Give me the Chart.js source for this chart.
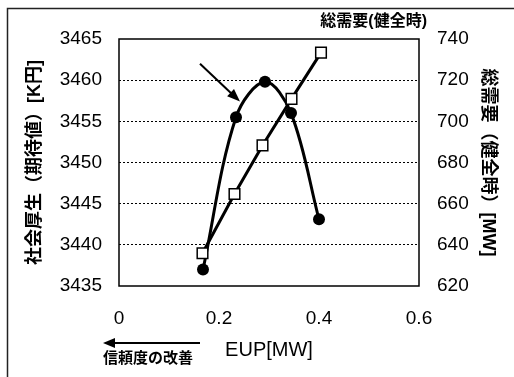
<!DOCTYPE html>
<html>
<head>
<meta charset="utf-8">
<script src="https://cdn.jsdelivr.net/npm/chart.js"></script>
<style>
  html, body { margin: 0; padding: 0; background: #fff; }
  #wrap { width: 514px; height: 377px; }
</style>
</head>
<body>
<div id="wrap"><canvas id="chart" width="514" height="377"></canvas></div>
<script>
// welfare (left axis, filled circles)
const welfareEup = [0.168, 0.234, 0.292, 0.344, 0.400];
const welfareValues = [3437.0, 3455.5, 3459.8, 3456.0, 3443.1];
// total demand (right axis, open squares)
const demandEup = [0.167, 0.231, 0.287, 0.345, 0.404];
const demandValues = [635.9, 664.7, 688.3, 710.9, 733.4];

const xTicks = [0, 0.2, 0.4, 0.6];
const leftTicks = [3435, 3440, 3445, 3450, 3455, 3460, 3465];
const rightTicks = [620, 640, 660, 680, 700, 720, 740];

// arrow pointing at the welfare peak, in data units (start, end)
const pointerArrow = [[0.162, 3462.0], [0.242, 3457.4]];

const NUM_FONT = "'Liberation Sans', Arial, sans-serif";
const JP_FONT = "'Liberation Sans', 'Noto Sans CJK JP', sans-serif";

function toPoints(xs, ys) {
    return xs.map((x, i) => ({ x: x, y: ys[i] }));
}

function arrowHead(ctx, x1, y1, x2, y2, len, half) {
    const a = Math.atan2(y2 - y1, x2 - x1);
    ctx.beginPath();
    ctx.moveTo(x2, y2);
    ctx.lineTo(x2 - len * Math.cos(a) + half * Math.sin(a), y2 - len * Math.sin(a) - half * Math.cos(a));
    ctx.lineTo(x2 - len * Math.cos(a) - half * Math.sin(a), y2 - len * Math.sin(a) + half * Math.cos(a));
    ctx.closePath();
    ctx.fill();
}

const decorPlugin = {
    id: 'decor',
    afterDatasetsDraw(chart) {
        const { ctx, chartArea, scales } = chart;
        ctx.save();
        ctx.strokeStyle = '#000';
        ctx.fillStyle = '#000';

        // plot box
        ctx.lineWidth = 1.5;
        ctx.strokeRect(chartArea.left, chartArea.top, chartArea.right - chartArea.left, chartArea.bottom - chartArea.top);

        // outer frame (only left and top edges visible)
        ctx.lineWidth = 1.5;
        ctx.strokeStyle = '#222';
        ctx.beginPath();
        ctx.moveTo(7.5, 377);
        ctx.lineTo(7.5, 8.5);
        ctx.lineTo(514, 8.5);
        ctx.stroke();

        // pointer arrow
        const sx = scales.x.getPixelForValue(pointerArrow[0][0]);
        const sy = scales.y.getPixelForValue(pointerArrow[0][1]);
        const ex = scales.x.getPixelForValue(pointerArrow[1][0]);
        const ey = scales.y.getPixelForValue(pointerArrow[1][1]);
        const ang = Math.atan2(ey - sy, ex - sx);
        ctx.strokeStyle = '#000';
        ctx.lineWidth = 2;
        ctx.beginPath();
        ctx.moveTo(sx, sy);
        ctx.lineTo(ex - 6 * Math.cos(ang), ey - 6 * Math.sin(ang));
        ctx.stroke();
        arrowHead(ctx, sx, sy, ex, ey, 13, 5);

        // reliability arrow under the axis
        const ay = 343;
        ctx.lineWidth = 2;
        ctx.beginPath();
        ctx.moveTo(chartArea.left + 81, ay);
        ctx.lineTo(chartArea.left - 5, ay);
        ctx.stroke();
        arrowHead(ctx, chartArea.left + 81, ay, chartArea.left - 16, ay, 12, 5);

        ctx.font = "bold 15px " + JP_FONT;
        ctx.textAlign = 'center';
        ctx.textBaseline = 'middle';
        ctx.fillText('信頼度の改善', chartArea.left + 29, 359);

        // right series caption
        ctx.font = "bold 16px " + JP_FONT;
        ctx.textAlign = 'right';
        ctx.fillText('総需要(健全時)', chartArea.right + 8, 22);
        ctx.restore();
    }
};

new Chart(document.getElementById('chart'), {
    type: 'line',
    data: {
        datasets: [
            {
                label: '総需要(健全時)',
                data: toPoints(demandEup, demandValues),
                yAxisID: 'y1',
                borderColor: '#000',
                borderWidth: 3,
                pointStyle: 'rect',
                pointRadius: 7.5,
                pointBackgroundColor: '#fff',
                pointBorderColor: '#000',
                pointBorderWidth: 1.5,
                tension: 0,
                order: 0
            },
            {
                label: '社会厚生(期待値)',
                data: toPoints(welfareEup, welfareValues),
                yAxisID: 'y',
                borderColor: '#000',
                borderWidth: 3,
                pointStyle: 'circle',
                pointRadius: 6,
                pointBackgroundColor: '#000',
                pointBorderColor: '#000',
                pointBorderWidth: 0,
                tension: 0.35,
                order: 1
            }
        ]
    },
    options: {
        responsive: false,
        animation: false,
        devicePixelRatio: 1,
        layout: { padding: { top: 39, left: 0, right: 0, bottom: 0 } },
        plugins: {
            legend: { display: false },
            tooltip: { enabled: false }
        },
        scales: {
            x: {
                type: 'linear',
                min: 0,
                max: 0.6,
                afterBuildTicks: scale => { scale.ticks = xTicks.map(v => ({ value: v })); },
                afterFit: scale => { scale.height = 91; },
                grid: { display: false, drawTicks: false },
                border: { display: false },
                ticks: {
                    padding: 21,
                    color: '#000',
                    font: { family: NUM_FONT, size: 19 },
                    callback: v => String(v)
                },
                title: {
                    display: true,
                    text: 'EUP[MW]',
                    color: '#000',
                    font: { family: NUM_FONT, size: 20 },
                    padding: { top: 0, bottom: 15 }
                }
            },
            y: {
                type: 'linear',
                position: 'left',
                min: 3435,
                max: 3465,
                afterBuildTicks: scale => { scale.ticks = leftTicks.map(v => ({ value: v })); },
                afterFit: scale => { scale.width = 119; },
                grid: {
                    drawTicks: false,
                    lineWidth: 1,
                    color: ctx => (ctx.index === 0 || ctx.index === leftTicks.length - 1) ? 'rgba(0,0,0,0)' : '#000'
                },
                // in v4 the grid line dash comes from the border options
                border: { display: false, dash: [2, 2] },
                ticks: {
                    padding: 17,
                    color: '#000',
                    font: { family: NUM_FONT, size: 19 },
                    callback: v => String(v)
                },
                title: {
                    display: true,
                    text: '社会厚生（期待値）[K円]',
                    color: '#000',
                    font: { family: JP_FONT, size: 18, weight: 'bold' },
                    padding: { top: 24, bottom: 0 }
                }
            },
            y1: {
                type: 'linear',
                position: 'right',
                min: 620,
                max: 740,
                afterBuildTicks: scale => { scale.ticks = rightTicks.map(v => ({ value: v })); },
                afterFit: scale => { scale.width = 95; },
                grid: { display: false, drawTicks: false },
                border: { display: false },
                ticks: {
                    padding: 18,
                    color: '#000',
                    font: { family: NUM_FONT, size: 19 },
                    callback: v => String(v)
                },
                title: {
                    display: true,
                    text: '総需要（健全時）[MW]',
                    color: '#000',
                    font: { family: JP_FONT, size: 18, weight: 'bold' },
                    padding: { top: 15, bottom: 0 }
                }
            }
        }
    },
    plugins: [decorPlugin]
});
</script>
</body>
</html>
